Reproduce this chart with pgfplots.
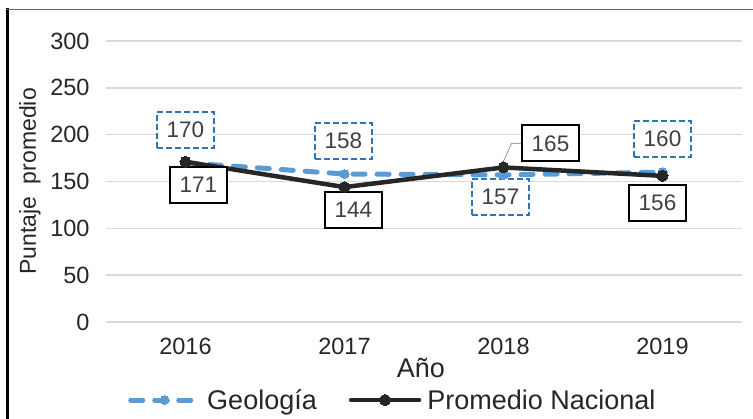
\documentclass[border=0pt]{standalone}
\usepackage{fontspec}
\setmainfont{Liberation Sans}
\usepackage{pgfplots}
\pgfplotsset{compat=1.18}
\definecolor{geo}{HTML}{5B9BD5}
\definecolor{geobox}{HTML}{2E75B6}
\definecolor{nac}{HTML}{262626}
\definecolor{gridc}{HTML}{D9D9D9}
\definecolor{txt}{HTML}{404040}
\begin{document}
\begin{tikzpicture}[
  geolab/.style={draw=geobox, dash pattern=on 6pt off 3pt, line width=2pt, fill=white, text=txt,
    minimum width=57pt, minimum height=36pt, inner sep=0pt, font=\fontsize{22.5}{26}\selectfont},
  naclab/.style={draw=black, line width=2pt, fill=white, text=txt,
    minimum width=57pt, minimum height=36pt, inner sep=0pt, font=\fontsize{22.5}{26}\selectfont}]
\useasboundingbox (-106pt,-97pt) rectangle (647pt,322pt);
\draw[black, line width=2.5pt] (-98.5pt,-97pt) -- (-98.5pt,313.5pt);
\draw[gray!80!black, line width=1pt] (-99.5pt,312.7pt) -- (647pt,312.7pt);
\begin{axis}[
  at={(0pt,0pt)}, anchor=south west,
  scale only axis, width=636pt, height=281pt,
  xmin=-0.5, xmax=3.5, ymin=0, ymax=300,
  xtick={0,1,2,3}, xticklabels={2016,2017,2018,2019},
  ytick={0,50,...,300},
  ymajorgrids, grid style={gridc, line width=1.5pt},
  axis line style={draw=none}, tick style={draw=none},
  tick label style={font=\fontsize{23.5}{28}\selectfont, text=nac},
  /pgf/number format/assume math mode=true,
  yticklabel style={xshift=-13pt},
  xticklabel style={yshift=-13pt},
  xlabel={Año},
  xlabel style={at={(axis description cs:0.495,-0.199)}, anchor=base, font=\fontsize{27}{32}\selectfont, text=nac},
  ylabel={Puntaje\ \ promedio},
  ylabel style={at={(axis description cs:-0.1195,0.5)}, anchor=center, font=\fontsize{23}{27}\selectfont, text=nac},
  legend columns=2,
  legend style={draw=none, fill=none, at={(axis description cs:0.451,-0.2776)}, anchor=center,
    font=\fontsize{27}{31}\selectfont, text=nac,
    /tikz/every odd column/.append style={column sep=4pt},
    /tikz/every even column/.append style={column sep=30pt}},
  legend image code/.code={\draw[mark repeat=2, mark phase=2, #1] plot coordinates {(0pt,0pt) (34pt,0pt) (68pt,0pt)};},
]
\addplot[geo, line width=5pt, line cap=round, dash pattern=on 12pt off 12pt, mark=*, mark size=4.5pt,
  mark options={solid, fill=geo, draw=geo, line width=0pt}] table {
x y
0 170
1 158
2 157
3 160
};
\addlegendentry{Geología}
\addplot[nac, line width=4.5pt, line cap=round, mark=*, mark size=5.5pt,
  mark options={solid, fill=nac, draw=nac, line width=0pt}] table {
x y
0 171
1 144
2 165
3 156
};
\addlegendentry{Promedio Nacional}
\draw[gray!70, line width=1pt] ([shift={(-1pt,4pt)}]axis cs:2,165) -- ([shift={(8pt,24pt)}]axis cs:2,165) -- ([shift={(18pt,24pt)}]axis cs:2,165);
\node[geolab] at ([shift={(0pt,33pt)}]axis cs:0,170) {170};
\node[geolab] at ([shift={(-1pt,33pt)}]axis cs:1,158) {158};
\node[geolab] at ([shift={(-3pt,-22pt)}]axis cs:2,157) {157};
\node[geolab] at ([shift={(0pt,33pt)}]axis cs:3,160) {160};
\node[naclab] at ([shift={(13pt,-23pt)}]axis cs:0,171) {171};
\node[naclab] at ([shift={(9pt,-23pt)}]axis cs:1,144) {144};
\node[naclab] at ([shift={(47pt,24pt)}]axis cs:2,165) {165};
\node[naclab] at ([shift={(-5pt,-27pt)}]axis cs:3,156) {156};
\end{axis}
\end{tikzpicture}
\end{document}
